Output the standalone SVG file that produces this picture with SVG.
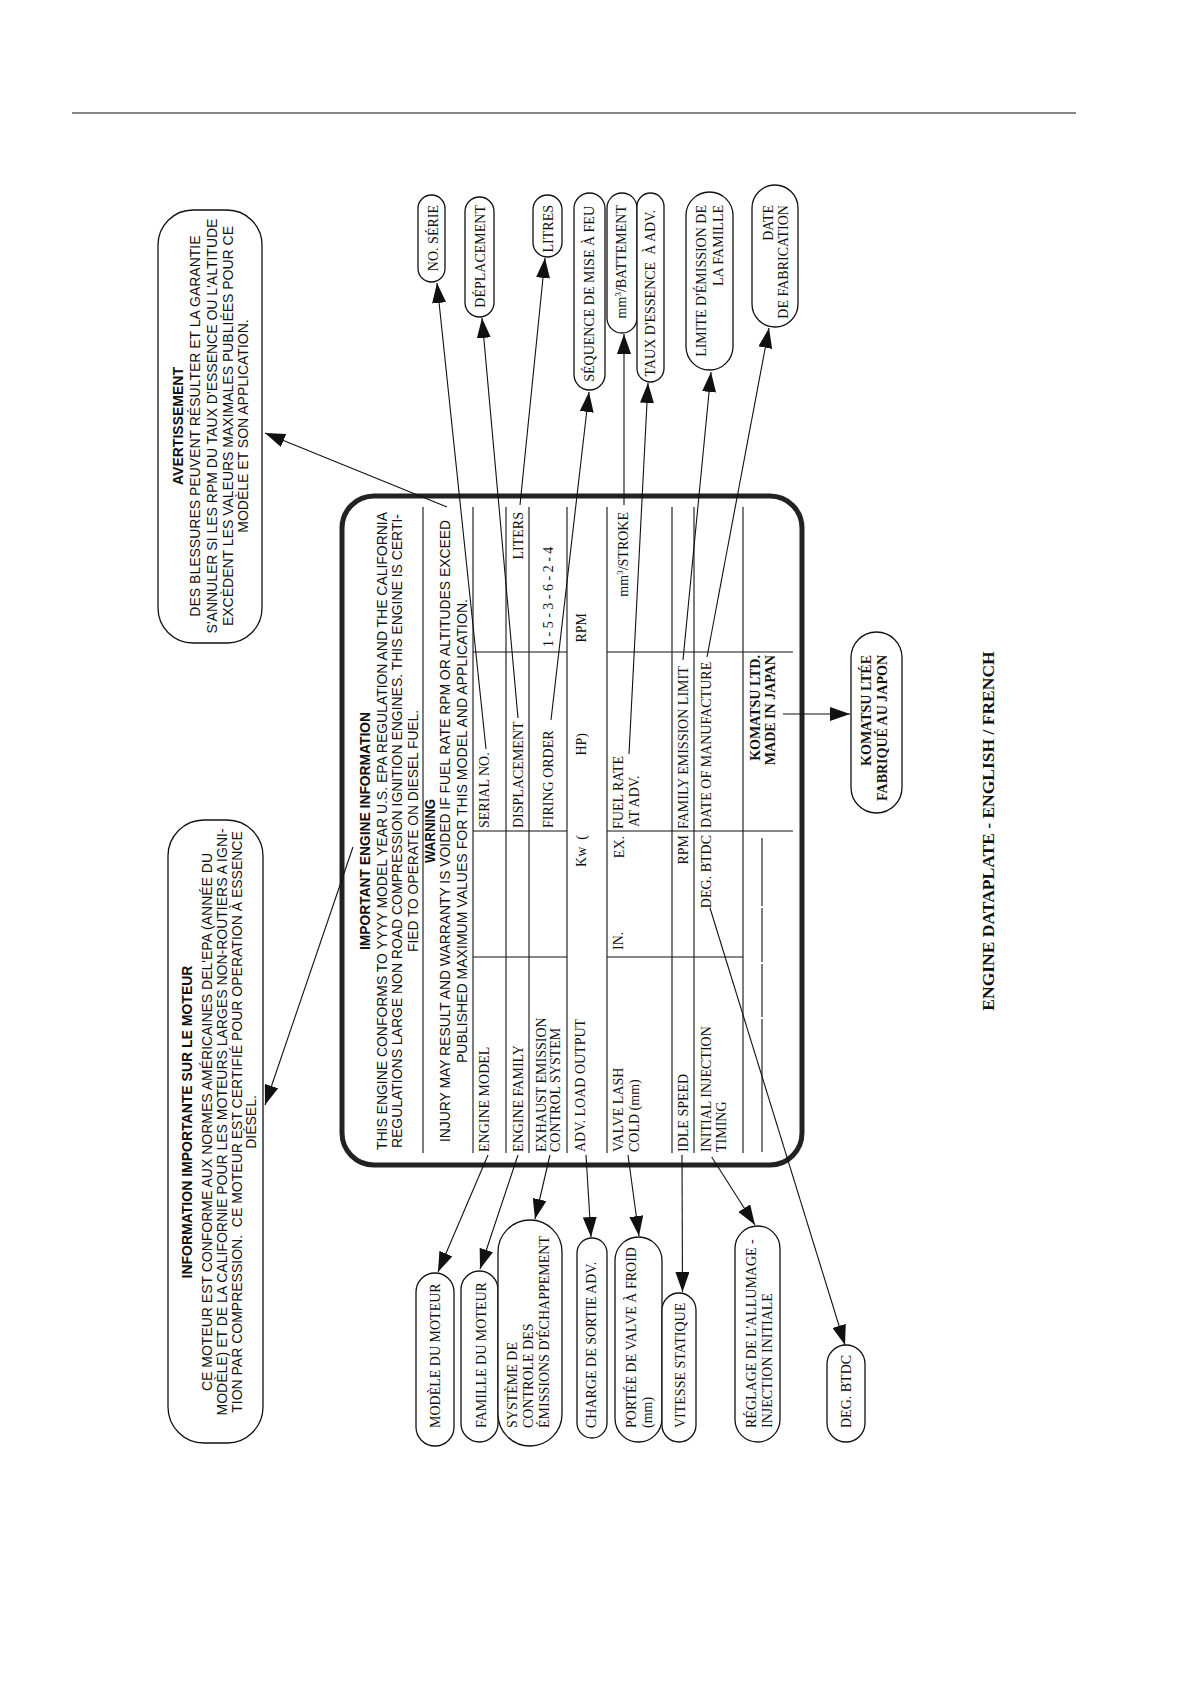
<svg xmlns="http://www.w3.org/2000/svg" width="1190" height="1684" viewBox="0 0 1190 1684">
<defs>
<style>
text{fill:#111}
.sans{font-family:"Liberation Sans",Arial,Helvetica,sans-serif;font-size:14px}
.pl{font-size:15px}
.b{font-weight:bold}
.serif{font-family:"Liberation Serif","Times New Roman",serif;font-size:14px}
.cap{font-size:17.5px;font-weight:bold}
.m{text-anchor:middle}
.e{text-anchor:end}
.s{text-anchor:start}
.box{fill:#fff;stroke:#111;stroke-width:1.3}
.plate{fill:#fff;stroke:#222;stroke-width:5}
.grid line{stroke:#111;stroke-width:1.1}
.conn line{stroke:#111;stroke-width:1.1;fill:none;marker-end:url(#ah)}
</style>
<marker id="ah" markerUnits="userSpaceOnUse" markerWidth="20" markerHeight="14" refX="20" refY="7" orient="auto">
<path d="M0,0 L20,7 L0,14 z" fill="#111"/>
</marker>
</defs>
<rect width="1190" height="1684" fill="#fff"/>
<line x1="72" y1="113" x2="1076" y2="113" stroke="#111" stroke-width="1.2"/>

<g id="plate">
<rect class="plate" x="342" y="496" width="460" height="669" rx="32"/>
<g class="sans pl m">
<text class="b" x="370.4" y="831" transform="rotate(-90 370.4 831)" textLength="238" lengthAdjust="spacingAndGlyphs">IMPORTANT ENGINE INFORMATION</text>
<text x="387.4" y="831" transform="rotate(-90 387.4 831)" textLength="638" lengthAdjust="spacingAndGlyphs">THIS ENGINE CONFORMS TO YYYY MODEL YEAR U.S. EPA REGULATION AND THE CALIFORNIA</text>
<text x="402.4" y="831" transform="rotate(-90 402.4 831)" textLength="634" lengthAdjust="spacingAndGlyphs">REGULATIONS LARGE NON ROAD COMPRESSION IGNITION ENGINES. THIS ENGINE IS CERTI-</text>
<text x="418.4" y="831" transform="rotate(-90 418.4 831)" textLength="242" lengthAdjust="spacingAndGlyphs">FIED TO OPERATE ON DIESEL FUEL.</text>
<text class="b" x="435.4" y="831" transform="rotate(-90 435.4 831)" textLength="64" lengthAdjust="spacingAndGlyphs">WARNING</text>
<text x="450.4" y="831" transform="rotate(-90 450.4 831)" textLength="622" lengthAdjust="spacingAndGlyphs">INJURY MAY RESULT AND WARRANTY IS VOIDED IF FUEL RATE RPM OR ALTITUDES EXCEED</text>
<text x="467.4" y="831" transform="rotate(-90 467.4 831)" textLength="464" lengthAdjust="spacingAndGlyphs">PUBLISHED MAXIMUM VALUES FOR THIS MODEL AND APPLICATION.</text>
</g>
<g class="grid">
<line x1="423" y1="507" x2="423" y2="1153"/>
<line x1="473" y1="507" x2="473" y2="1153"/>
<line x1="506" y1="507" x2="506" y2="1153"/>
<line x1="529" y1="507" x2="529" y2="1153"/>
<line x1="567" y1="507" x2="567" y2="1153"/>
<line x1="607" y1="507" x2="607" y2="1153"/>
<line x1="672" y1="507" x2="672" y2="1153"/>
<line x1="694" y1="507" x2="694" y2="1153"/>
<line x1="743" y1="507" x2="743" y2="1153"/>
<line x1="473" y1="652" x2="567" y2="652"/>
<line x1="607" y1="652" x2="793" y2="652"/>
<line x1="473" y1="831" x2="567" y2="831"/>
<line x1="607" y1="831" x2="793" y2="831"/>
<line x1="473" y1="957" x2="567" y2="957"/>
<line x1="607" y1="957" x2="743" y2="957"/>
<line x1="762" y1="838" x2="762" y2="906"/>
<line x1="762" y1="908" x2="762" y2="962"/>
<line x1="762" y1="964" x2="762" y2="1017"/>
<line x1="762" y1="1019" x2="762" y2="1152"/>
</g>
<g class="serif s">
<text x="489" y="1152" transform="rotate(-90 489 1152)">ENGINE MODEL</text>
<text x="522.6" y="1152" transform="rotate(-90 522.6 1152)">ENGINE FAMILY</text>
<text x="545.6" y="1152" transform="rotate(-90 545.6 1152)">EXHAUST EMISSION</text>
<text x="560.3" y="1152" transform="rotate(-90 560.3 1152)">CONTROL SYSTEM</text>
<text x="584.6" y="1152" transform="rotate(-90 584.6 1152)">ADV. LOAD OUTPUT</text>
<text x="623" y="1152" transform="rotate(-90 623 1152)">VALVE LASH</text>
<text x="638.6" y="1152" transform="rotate(-90 638.6 1152)">COLD (mm)</text>
<text x="688" y="1152" transform="rotate(-90 688 1152)">IDLE SPEED</text>
<text x="711.3" y="1152" transform="rotate(-90 711.3 1152)">INITIAL INJECTION</text>
<text x="726.3" y="1152" transform="rotate(-90 726.3 1152)">TIMING</text>
<text x="623" y="950" transform="rotate(-90 623 950)">IN.</text>
<text x="489" y="828" transform="rotate(-90 489 828)">SERIAL NO.</text>
<text x="522.6" y="828" transform="rotate(-90 522.6 828)">DISPLACEMENT</text>
<text x="553" y="828" transform="rotate(-90 553 828)">FIRING ORDER</text>
<text x="623" y="829" transform="rotate(-90 623 829)">FUEL RATE</text>
<text x="638.6" y="827" transform="rotate(-90 638.6 827)">AT ADV.</text>
<text x="688" y="829" transform="rotate(-90 688 829)">FAMILY EMISSION LIMIT</text>
<text x="711.3" y="828" transform="rotate(-90 711.3 828)">DATE OF MANUFACTURE</text>
<text x="553" y="647" transform="rotate(-90 553 647)">1 - 5 - 3 - 6 - 2 - 4</text>
</g>
<g class="serif e">
<text x="586" y="835" transform="rotate(-90 586 835)">Kw&#160; (</text>
<text x="623.5" y="836" transform="rotate(-90 623.5 836)">EX.</text>
<text x="688" y="835" transform="rotate(-90 688 835)">RPM</text>
<text x="711.3" y="835" transform="rotate(-90 711.3 835)">DEG. BTDC</text>
<text x="586" y="733" transform="rotate(-90 586 733)">HP)</text>
<text class="b" x="759.6" y="655" transform="rotate(-90 759.6 655)">KOMATSU LTD.</text>
<text class="b" x="774.6" y="655" transform="rotate(-90 774.6 655)">MADE IN JAPAN</text>
<text x="522.6" y="512" transform="rotate(-90 522.6 512)">LITERS</text>
<text x="586" y="613" transform="rotate(-90 586 613)">RPM</text>
<text x="628" y="512" transform="rotate(-90 628 512)">mm<tspan dy="-5" font-size="9">3</tspan><tspan dy="5">/STROKE</tspan></text>
</g>
</g>

<g id="avertissement">
<rect class="box" x="158" y="210" width="104" height="433" rx="35"/>
<g class="sans m">
<text class="b" x="183.3" y="426" transform="rotate(-90 183.3 426)">AVERTISSEMENT</text>
<text x="200" y="426" transform="rotate(-90 200 426)">DES BLESSURES PEUVENT RÉSULTER ET LA GARANTIE</text>
<text x="216.7" y="426" transform="rotate(-90 216.7 426)">S'ANNULER SI LES RPM DU TAUX D'ESSENCE OU L'ALTITUDE</text>
<text x="232.7" y="426" transform="rotate(-90 232.7 426)">EXCÈDENT LES VALEURS MAXIMALES PUBLIÉES POUR CE</text>
<text x="248.3" y="426" transform="rotate(-90 248.3 426)">MODÈLE ET SON APPLICATION.</text>
</g>
</g>

<g id="information">
<rect class="box" x="168" y="820" width="95" height="623" rx="36"/>
<g class="sans m">
<text class="b" x="192" y="1122" transform="rotate(-90 192 1122)">INFORMATION IMPORTANTE SUR LE MOTEUR</text>
<text x="211.5" y="1122" transform="rotate(-90 211.5 1122)">CE MOTEUR EST CONFORME AUX NORMES AMÉRICAINES DEL'EPA (ANNÉE DU</text>
<text x="226.5" y="1122" transform="rotate(-90 226.5 1122)">MODÈLE) ET DE LA CALIFORNIE POUR LES MOTEURS LARGES NON-ROUTIERS A IGNI-</text>
<text x="241.5" y="1122" transform="rotate(-90 241.5 1122)">TION PAR COMPRESSION.&#160; CE MOTEUR EST CERTIFIÉ POUR OPERATION À ESSENCE</text>
<text x="255.5" y="1122" transform="rotate(-90 255.5 1122)">DIÉSEL.</text>
</g>
</g>

<g id="no-serie">
<rect class="box" x="418" y="195" width="27" height="87" rx="13.5"/>
<text class="serif e" x="438" y="205" transform="rotate(-90 438 205)">NO. SÉRIE</text>
</g>
<g id="deplacement">
<rect class="box" x="465" y="197" width="29" height="120" rx="14.5"/>
<text class="serif e" x="484.5" y="205" transform="rotate(-90 484.5 205)">DÉPLACEMENT</text>
</g>
<g id="litres">
<rect class="box" x="533" y="195" width="29" height="62" rx="14.5"/>
<text class="serif e" x="552.5" y="205" transform="rotate(-90 552.5 205)">LITRES</text>
</g>
<g id="sequence">
<rect class="box" x="574" y="193" width="31" height="197" rx="15.5"/>
<text class="serif e" x="594" y="206" transform="rotate(-90 594 206)">SÉQUENCE DE MISE À FEU</text>
</g>
<g id="battement">
<rect class="box" x="607" y="193" width="30" height="140" rx="15"/>
<text class="serif e" x="626" y="205" transform="rotate(-90 626 205)">mm<tspan dy="-5" font-size="9">3</tspan><tspan dy="5">/BATTEMENT</tspan></text>
</g>
<g id="taux">
<rect class="box" x="637" y="193" width="27" height="189" rx="13.5"/>
<text class="serif e" x="655" y="210" transform="rotate(-90 655 210)">TAUX D'ESSENCE&#160; À ADV.</text>
</g>
<g id="limite">
<rect class="box" x="686" y="192" width="47" height="178" rx="23.5"/>
<text class="serif e" x="706.3" y="205" transform="rotate(-90 706.3 205)">LIMITE D'ÉMISSION DE</text>
<text class="serif e" x="723" y="205" transform="rotate(-90 723 205)">LA FAMILLE</text>
</g>
<g id="date">
<rect class="box" x="752" y="185" width="46" height="142" rx="23"/>
<text class="serif e" x="773" y="205" transform="rotate(-90 773 205)">DATE</text>
<text class="serif e" x="788" y="205" transform="rotate(-90 788 205)">DE FABRICATION</text>
</g>

<g id="komatsu-ltee">
<rect class="box" x="851" y="632" width="51" height="181" rx="25.5"/>
<text class="serif e b" x="871.3" y="655" transform="rotate(-90 871.3 655)">KOMATSU LTÉE</text>
<text class="serif e b" x="887.3" y="655" transform="rotate(-90 887.3 655)">FABRIQUÉ AU JAPON</text>
</g>

<g id="modele">
<rect class="box" x="416" y="1273" width="38" height="173" rx="19"/>
<text class="serif s" x="439.6" y="1428" transform="rotate(-90 439.6 1428)">MODÈLE DU MOTEUR</text>
</g>
<g id="famille">
<rect class="box" x="461" y="1271" width="37" height="171" rx="18.5"/>
<text class="serif s" x="485.6" y="1428" transform="rotate(-90 485.6 1428)">FAMILLE DU MOTEUR</text>
</g>
<g id="systeme">
<rect class="box" x="498" y="1220" width="64" height="226" rx="32"/>
<text class="serif s" x="516.5" y="1428" transform="rotate(-90 516.5 1428)">SYSTÈME DE</text>
<text class="serif s" x="532.5" y="1428" transform="rotate(-90 532.5 1428)">CONTROLE DES</text>
<text class="serif s" x="549" y="1428" transform="rotate(-90 549 1428)">ÉMISSIONS D'ÉCHAPPEMENT</text>
</g>
<g id="charge">
<rect class="box" x="577" y="1238" width="30" height="200" rx="15"/>
<text class="serif s" x="596.3" y="1428" transform="rotate(-90 596.3 1428)">CHARGE DE SORTIE ADV.</text>
</g>
<g id="portee">
<rect class="box" x="615" y="1237" width="47" height="205" rx="23.5"/>
<text class="serif s" x="636" y="1428" transform="rotate(-90 636 1428)">PORTÉE DE VALVE À FROID</text>
<text class="serif s" x="651.5" y="1428" transform="rotate(-90 651.5 1428)">(mm)</text>
</g>
<g id="vitesse">
<rect class="box" x="662" y="1293" width="34" height="149" rx="17"/>
<text class="serif s" x="684.6" y="1428" transform="rotate(-90 684.6 1428)">VITESSE STATIQUE</text>
</g>
<g id="reglage">
<rect class="box" x="735" y="1226" width="45" height="216" rx="22.5"/>
<text class="serif s" x="756.3" y="1428" transform="rotate(-90 756.3 1428)">RÉGLAGE DE L'ALLUMAGE -</text>
<text class="serif s" x="772.3" y="1428" transform="rotate(-90 772.3 1428)">INJECTION INITIALE</text>
</g>
<g id="deg-btdc">
<rect class="box" x="827" y="1345" width="38" height="97" rx="19"/>
<text class="serif s" x="851.3" y="1428" transform="rotate(-90 851.3 1428)">DEG. BTDC</text>
</g>

<g id="connectors" class="conn">
<line x1="486" y1="749" x2="437" y2="283"/>
<line x1="518" y1="718" x2="482" y2="318"/>
<line x1="520" y1="505" x2="545" y2="258"/>
<line x1="551" y1="720" x2="589" y2="392"/>
<line x1="624" y1="505" x2="624" y2="334"/>
<line x1="629" y1="754" x2="648" y2="383"/>
<line x1="683" y1="660" x2="711" y2="372"/>
<line x1="707" y1="657" x2="769" y2="328"/>
<line x1="447" y1="507" x2="265" y2="433"/>
<line x1="353" y1="847" x2="265" y2="1105"/>
<line x1="783" y1="714" x2="850" y2="714"/>
<line x1="488" y1="1155" x2="438" y2="1272"/>
<line x1="518" y1="1155" x2="480" y2="1269"/>
<line x1="550" y1="1155" x2="535" y2="1219"/>
<line x1="586" y1="1155" x2="591" y2="1237"/>
<line x1="628" y1="1155" x2="639" y2="1236"/>
<line x1="682" y1="1155" x2="682.5" y2="1292"/>
<line x1="711.7" y1="1157" x2="755" y2="1225"/>
<line x1="710" y1="908" x2="845" y2="1345"/>
</g>

<g id="caption">
<text class="serif cap m" x="994" y="831" transform="rotate(-90 994 831)">ENGINE DATAPLATE - ENGLISH / FRENCH</text>
</g>
</svg>
